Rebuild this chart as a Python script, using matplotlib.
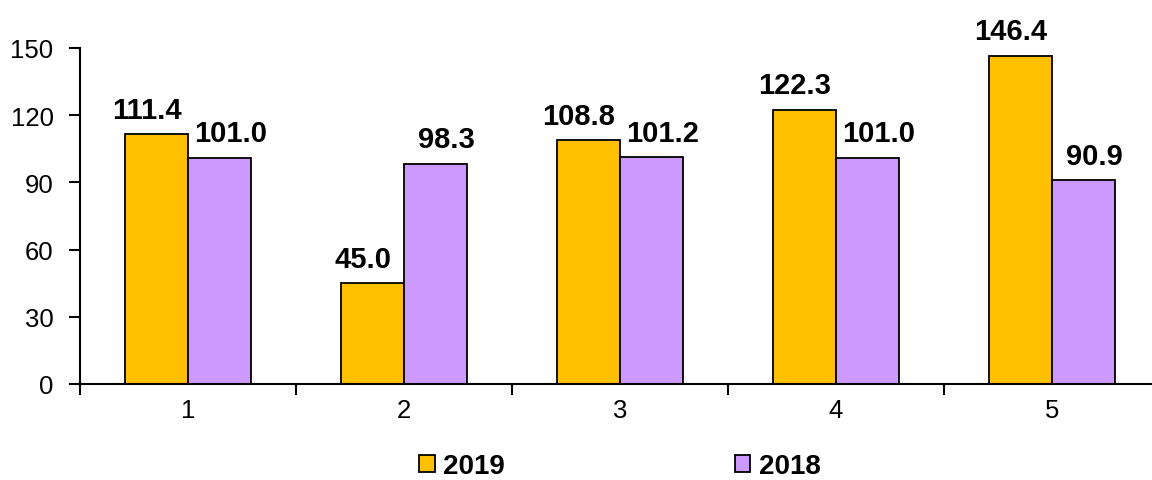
import matplotlib
matplotlib.use('Agg')
import matplotlib.pyplot as plt
import numpy as np

plt.rcParams['font.family'] = ['Liberation Sans', 'DejaVu Sans']

categories = ['1', '2', '3', '4', '5']
values_2019 = [111.4, 45.0, 108.8, 122.3, 146.4]
values_2018 = [101.0, 98.3, 101.2, 101.0, 90.9]

fig = plt.figure(figsize=(11.52, 4.81), dpi=100)
ax = fig.add_axes([80 / 1152, 96 / 481, 1080 / 1152, 336 / 481])

x = np.arange(len(categories))
w = 0.29
b1 = ax.bar(x - w / 2, values_2019, w, color='#FFC000', edgecolor='black', linewidth=1.3, label='2019')
b2 = ax.bar(x + w / 2, values_2018, w, color='#CC99FF', edgecolor='black', linewidth=1.3, label='2018')

# labels pushed a little apart like the excel ones
for bars, vals, dx in [(b1, values_2019, -7), (b2, values_2018, 8)]:
    for r, v in zip(bars, vals):
        ax.annotate(f'{v:.1f}', (r.get_x() + r.get_width() / 2, v),
                    xytext=(dx, 12), textcoords='offset points',
                    ha='center', va='baseline', fontsize=21, fontweight='bold')

ax.set_xlim(-0.5, 4.5)
ax.set_ylim(0, 150)
ax.set_yticks([0, 30, 60, 90, 120, 150])
ax.set_xticks(x)
ax.set_xticklabels(categories)
ax.set_xticks(np.arange(-0.5, 5, 1), minor=True)
ax.tick_params(axis='x', which='major', length=0, pad=10, labelsize=18.5)
ax.tick_params(axis='x', which='minor', length=8, width=1.5, direction='out')
ax.tick_params(axis='y', length=8, width=1.5, direction='out', labelsize=18.5, pad=11)

ax.spines['top'].set_visible(False)
ax.spines['right'].set_visible(False)
ax.spines['left'].set_linewidth(1.5)
ax.spines['bottom'].set_linewidth(1.5)

leg = fig.legend(loc='center', bbox_to_anchor=(620 / 1152, 1 - 467 / 481), ncol=2,
                 frameon=False, prop={'size': 20, 'weight': 'bold'},
                 handlelength=0.55, handleheight=0.55, handletextpad=0.3,
                 columnspacing=8.3)

fig.savefig('out.png', dpi=100)
